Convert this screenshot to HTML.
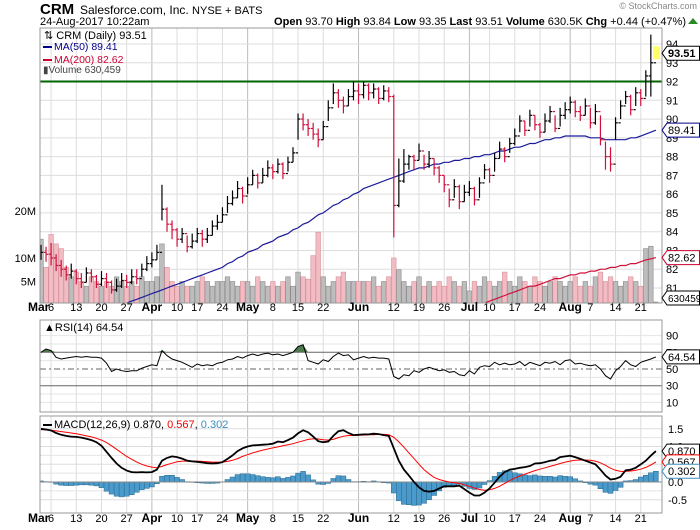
<!DOCTYPE html>
<html><head><meta charset="utf-8"><style>
body{margin:0;background:#fff;}
svg{display:block;font-family:"Liberation Sans",sans-serif;}
</style></head><body>
<svg id="chart" width="700" height="530" viewBox="0 0 700 530" xmlns="http://www.w3.org/2000/svg">
<defs>
<clipPath id="mainClip"><rect x="40" y="28" width="622" height="275"/></clipPath>
<clipPath id="rsiClip"><rect x="40" y="320" width="622" height="92"/></clipPath>
<clipPath id="macdClip"><rect x="40" y="416" width="622" height="97"/></clipPath>
</defs>
<text x="697" y="9" font-size="9" fill="#888" text-anchor="end">© StockCharts.com</text>
<text x="40" y="14" font-size="15" font-weight="bold">CRM</text>
<text x="80" y="14" font-size="12">Salesforce.com, Inc. <tspan font-size="11">NYSE + BATS</tspan></text>
<text x="40" y="25" font-size="11">24-Aug-2017 10:22am</text>
<text x="686" y="25" font-size="11" text-anchor="end"><tspan font-weight="bold">Open</tspan> 93.70 <tspan font-weight="bold">High</tspan> 93.84 <tspan font-weight="bold">Low</tspan> 93.35 <tspan font-weight="bold">Last</tspan> 93.51 <tspan font-weight="bold">Volume</tspan> 630.5K <tspan font-weight="bold">Chg</tspan> +0.44 (+0.47%)</text>
<path d="M688 24 L698 24 L693 18 Z" fill="#2a8a2a"/>
<g id="grid"></g>
<g id="vol" clip-path="url(#mainClip)"></g>
<g id="price" clip-path="url(#mainClip)"></g>
<g id="rsi" clip-path="url(#rsiClip)"></g>
<g id="macd" clip-path="url(#macdClip)"></g>
<g id="axes"></g>
<g id="legend">
<text x="44" y="39" font-size="11">⇅ CRM (Daily) 93.51</text>
<rect x="43" y="46" width="9" height="2" fill="#00008b"/>
<text x="54" y="50" font-size="10.5" fill="#00008b">MA(50) 89.41</text>
<rect x="43" y="59" width="9" height="2" fill="#cc0033"/>
<text x="54" y="63" font-size="10.5" fill="#cc0033">MA(200) 82.62</text>
<text x="43" y="73" font-size="10" fill="#444">▮Volume 630,459</text>
<text x="44" y="331" font-size="11">▲RSI(14) 64.54</text>
<rect x="43" y="424" width="9" height="2" fill="#000"/>
<text x="54" y="428" font-size="11">MACD(12,26,9) 0.870, <tspan fill="#e00">0.567</tspan>, <tspan fill="#3a8fc0">0.302</tspan></text>
</g>
</svg>
<script>
const close=[82.9,82.8,82.6,82.2,82.0,81.7,81.9,81.5,81.3,81.8,81.6,81.2,81.5,81.3,80.9,81.1,81.4,81.3,81.6,81.5,82.0,82.3,
82.5,82.9,85.2,84.4,84.1,83.6,83.9,83.2,83.5,83.9,83.6,83.8,84.3,84.5,84.9,85.5,85.8,86.3,85.9,
86.5,87.0,86.6,87.0,87.4,87.2,87.6,87.1,87.7,88.2,90.0,89.7,89.5,89.2,88.9,89.6,90.6,91.4,91.0,90.7,91.2,91.5,
91.3,91.8,91.4,91.6,91.1,91.5,91.2,85.4,86.7,87.6,88.0,87.8,88.3,87.6,87.9,87.4,87.0,86.5,85.7,86.4,85.6,86.1,
86.3,85.7,86.6,87.3,87.0,87.9,88.4,88.0,88.7,89.1,89.9,89.4,90.2,89.7,89.3,89.9,90.4,89.5,90.2,90.5,
90.9,90.4,90.2,90.7,89.8,90.4,88.9,88.0,87.6,89.8,90.7,91.2,90.5,91.4,91.1,92.3,93.0,93.51];
const high=[83.3,83.2,83.4,82.8,82.5,82.2,82.3,82.0,81.8,82.1,82.0,81.7,81.9,81.8,81.4,81.5,81.8,81.7,82.0,82.0,82.3,82.7,
82.9,83.3,86.5,85.3,84.6,84.2,84.2,83.8,83.9,84.2,84.1,84.2,84.6,84.9,85.3,85.9,86.2,86.7,86.4,
86.9,87.3,87.1,87.4,87.8,87.6,87.9,87.7,88.0,88.5,90.3,90.3,90.0,89.8,89.5,89.9,91.0,91.9,91.6,91.2,91.6,92.0,
91.9,92.0,91.9,91.9,91.7,91.8,91.7,91.3,87.9,88.4,88.1,88.1,88.7,88.1,88.3,87.9,87.5,87.0,86.3,86.8,86.5,86.5,
86.7,86.4,86.9,87.6,87.4,88.2,88.8,88.5,89.0,89.5,90.2,89.9,90.5,90.2,89.8,90.3,90.7,90.2,90.6,90.9,
91.2,91.0,90.7,91.1,90.6,90.8,90.2,88.8,88.5,90.1,91.0,91.5,91.3,91.7,91.6,92.6,94.5,93.84];
const low=[82.5,82.4,82.2,81.9,81.6,81.4,81.5,81.2,81.0,81.3,81.3,81.0,81.1,81.0,80.7,80.8,81.0,81.0,81.2,81.2,81.6,81.9,
82.1,82.5,84.6,84.0,83.6,83.2,83.4,82.9,83.1,83.4,83.2,83.4,83.8,84.1,84.5,85.0,85.4,85.8,85.5,
86.0,86.5,86.3,86.6,86.9,86.8,87.1,86.8,87.2,87.7,88.9,89.4,89.1,88.9,88.5,88.9,89.9,90.8,90.6,90.3,90.7,91.0,
90.8,91.1,91.0,91.1,90.8,91.0,90.9,83.7,85.3,86.6,87.3,87.3,87.8,87.3,87.4,87.0,86.6,86.1,85.3,85.8,85.2,85.6,
85.9,85.4,85.8,86.8,86.6,87.2,87.9,87.7,88.2,88.6,89.3,89.1,89.6,89.4,89.0,89.3,89.8,89.3,89.6,90.0,
90.3,90.1,89.9,90.2,89.5,89.7,88.6,87.3,87.2,88.9,90.0,90.8,90.2,90.7,90.7,91.2,91.2,93.35];
const ma50=[78.8,78.9,79.0,79.1,79.1,79.2,79.3,79.4,79.5,79.5,79.6,79.7,79.8,79.9,80.0,80.1,80.1,80.2,80.3,80.4,80.5,80.6,
80.7,80.8,80.9,81.0,81.1,81.2,81.3,81.4,81.5,81.6,81.7,81.8,81.9,82.0,82.1,82.3,82.4,82.6,82.7,
82.9,83.0,83.1,83.3,83.4,83.5,83.7,83.8,83.9,84.1,84.2,84.4,84.5,84.7,84.9,85.0,85.2,85.4,85.5,85.7,85.8,86.0,
86.1,86.3,86.4,86.5,86.6,86.7,86.8,86.9,87.0,87.1,87.2,87.3,87.4,87.4,87.5,87.6,87.6,87.7,87.7,87.8,87.8,87.9,
87.9,88.0,88.0,88.1,88.1,88.2,88.3,88.3,88.4,88.5,88.5,88.6,88.7,88.7,88.8,88.9,88.9,89.0,89.0,89.1,
89.1,89.1,89.1,89.1,89.0,89.0,89.0,88.9,88.9,88.9,88.9,88.9,89.0,89.0,89.1,89.2,89.3,89.41];
const ma200=[76.5,76.6,76.6,76.6,76.7,76.7,76.7,76.8,76.8,76.8,76.9,76.9,77.0,77.0,77.0,77.1,77.1,77.1,77.2,77.2,77.3,77.3,
77.3,77.4,77.4,77.5,77.5,77.6,77.6,77.7,77.7,77.7,77.8,77.8,77.9,77.9,78.0,78.0,78.1,78.1,78.2,
78.2,78.3,78.3,78.4,78.4,78.5,78.5,78.6,78.6,78.7,78.7,78.8,78.8,78.9,78.9,79.0,79.0,79.1,79.1,79.2,79.2,79.3,
79.3,79.4,79.4,79.5,79.5,79.5,79.6,79.6,79.6,79.7,79.7,79.7,79.8,79.8,79.8,79.9,79.9,79.9,80.0,80.0,80.0,80.0,
80.1,80.1,80.1,80.2,80.3,80.4,80.5,80.6,80.7,80.8,80.9,81.0,81.1,81.1,81.2,81.3,81.4,81.5,81.5,81.6,
81.7,81.7,81.8,81.8,81.9,81.9,82.0,82.0,82.1,82.1,82.2,82.2,82.3,82.3,82.4,82.5,82.55,82.62];
const volume=[14,8,15,13,12,8,6,7,5,4,6,5,4,5,4,6,5,4,5,4,6,5,
5,6,13,8,5,4,5,4,4,5,6,5,4,5,5,6,5,4,5,
5,4,6,5,4,5,4,5,6,4,7,6,5.5,10.5,15.5,6,4,5,6,7,5,5,
5,5,5,6,4,5,6,10,7.5,5,4,5,6,4,5,4,5,4,6,5,4,5,
3,5,4,6,5,4,5,7,5,4,6,5,4,6,5,4,5,6,5,4,
5,6,4,5,4,6,7,5,6,5,4,5,6,5,4,12,12.5,0.63];
const rsi=[70,74,72,64,62,63,64,65,64,65,64,64,63,57,47,50,48,47,48,48,51,53,
55,54,72,66,62,60,58,55,52,56,54,55,54,57,58,61,62,65,63,
66,68,66,68,69,67,68,66,68,70,77,79,60,58,56,61,59,65,69,66,67,61,
63,65,63,64,63,63,62,41,38,43,42,48,46,50,52,50,48,49,46,47,43,42,
48,44,52,54,53,58,55,57,55,56,59,54,58,56,54,58,57,59,55,60,
61,56,57,55,54,55,50,42,38,48,53,60,55,53,58,60,62,64.54];
const macd=[1.50,1.48,1.45,1.38,1.33,1.30,1.28,1.27,1.25,1.22,1.18,1.12,1.02,0.85,0.68,0.52,0.40,0.32,0.28,0.27,0.28,0.27,
0.28,0.35,0.60,0.68,0.72,0.70,0.66,0.60,0.58,0.57,0.55,0.53,0.52,0.53,0.56,0.65,0.75,0.87,0.95,
1.00,1.03,1.04,1.05,1.06,1.08,1.14,1.12,1.18,1.25,1.37,1.46,1.40,1.28,1.15,1.12,1.14,1.30,1.43,1.46,1.38,1.32,
1.33,1.34,1.34,1.36,1.35,1.32,1.30,0.95,0.60,0.35,0.18,0.00,-0.15,-0.25,-0.27,-0.25,-0.18,-0.12,-0.12,-0.12,-0.10,-0.20,
-0.30,-0.38,-0.38,-0.30,-0.18,-0.02,0.15,0.28,0.35,0.37,0.40,0.42,0.45,0.52,0.53,0.56,0.60,0.62,0.70,0.72,
0.74,0.70,0.65,0.60,0.55,0.50,0.35,0.18,0.07,0.09,0.15,0.33,0.35,0.40,0.50,0.60,0.74,0.870];
const signal=[1.47,1.47,1.46,1.44,1.42,1.40,1.38,1.36,1.33,1.30,1.27,1.23,1.18,1.11,1.02,0.92,0.82,0.72,0.64,0.56,0.50,0.45,
0.42,0.40,0.44,0.49,0.53,0.57,0.59,0.59,0.59,0.59,0.58,0.57,0.56,0.56,0.56,0.58,0.61,0.66,0.72,
0.77,0.82,0.86,0.90,0.93,0.96,0.99,1.02,1.05,1.08,1.12,1.16,1.20,1.22,1.21,1.19,1.18,1.20,1.25,1.29,1.31,1.31,
1.32,1.32,1.33,1.33,1.34,1.34,1.33,1.26,1.13,0.98,0.82,0.66,0.50,0.35,0.23,0.13,0.07,0.03,0.00,-0.02,-0.04,-0.08,
-0.12,-0.17,-0.21,-0.23,-0.22,-0.18,-0.12,-0.04,0.04,0.11,0.17,0.22,0.27,0.32,0.36,0.40,0.44,0.48,0.52,0.56,
0.59,0.61,0.62,0.62,0.61,0.59,0.54,0.47,0.39,0.33,0.30,0.30,0.31,0.33,0.36,0.41,0.48,0.567];
const tickLabels=["6","13","20","27","Apr","10","17","24","May","8","15","22","Jun","12","19","26","Jul","10","17","24","Aug","7","14","21"];
const tickIdx=[2,7,12,17,22,27,31,36,41,46,51,56,63,70,75,80,85,89,94,99,105,109,114,119];
const priceTicks=[81,82,83,84,85,86,87,88,89,90,91,92,93,94];
const volTicks=[5,10,20];
const rsiTicks=[10,30,50,70,90];
const macdTicks=[-0.5,0,0.5,1,1.5];

const NS="http://www.w3.org/2000/svg";
const L=40,R=662;
const X=i=>41+i*5.04;
const PY=p=>44+(94-p)*18.77;
const VY=v=>305-v*4.7;
const RY=v=>369-(v-50)*0.835;
const MY=v=>482-v*35.5;
function mk(tag,attrs,parent){const e=document.createElementNS(NS,tag);for(const k in attrs)e.setAttribute(k,attrs[k]);parent.appendChild(e);return e;}
const G=id=>document.getElementById(id);
const grid=G('grid'),axes=G('axes');

[[28,303],[320,412],[416,513]].forEach(([t,b],k)=>{
  const r=mk('rect',{x:L,y:t,width:R-L,height:b-t,fill:'none',stroke:'#999','stroke-width':1},axes);
  
  
});
tickIdx.forEach((ti,k)=>{
  const x=X(ti);
  const isMonth=isNaN(+tickLabels[k]);
  [[28,303],[320,412],[416,513]].forEach(([t,b])=>{
    const l=mk('line',{x1:x,x2:x,y1:t,y2:b,stroke:isMonth?'#bbb':'#ddd','stroke-width':1},grid);
    
    
  });
  [311,522].forEach(y=>{
    const t=mk('text',{x:x,y:y,'font-size':isMonth?12:11,'font-weight':isMonth?'bold':'normal','text-anchor':'middle'},axes);
    t.textContent=tickLabels[k];
    
    
  });
});
[311,522].forEach(y=>{
  const t=mk('text',{x:28,y:y,'font-size':12,'font-weight':'bold'},axes);t.textContent='Mar';
  
  
});
priceTicks.forEach(p=>{
  const y=PY(p);
  const l=mk('line',{x1:L,x2:R,y1:y,y2:y,stroke:'#ddd'},grid);
  
  
  const t=mk('text',{x:666,y:y+4,'font-size':11},axes);t.textContent=p;
  
  
});
volTicks.forEach(v=>{
  const t=mk('text',{x:36,y:VY(v)+4,'font-size':11,'text-anchor':'end'},axes);t.textContent=v+'M';
  
  
});
const vol=G('vol');
volume.forEach((v,i)=>{
  const down=i>0&&close[i]<close[i-1];
  const r=mk('rect',{x:X(i)-2.3,y:VY(v),width:4.6,height:305-VY(v),fill:down?'#f2bcc4':'#bdbdbd',stroke:down?'#d6909a':'#8c8c8c','stroke-width':0.6},vol);
  
  
});
const sl=mk('line',{x1:L,x2:R,y1:PY(92),y2:PY(92),stroke:'#006400','stroke-width':2},G('price'));


function poly(arr,f,color,w,parent,name){
  const pts=arr.map((v,i)=>X(i).toFixed(1)+','+f(v).toFixed(1)).join(' ');
  const p=mk('polyline',{points:pts,fill:'none',stroke:color,'stroke-width':w},parent);
  
  
  return p;
}
poly(ma50,PY,'#1a1a9a',1.2,G('price'),'ma50-line');
poly(ma200,PY,'#d0103a',1.2,G('price'),'ma200-line');
const price=G('price');
close.forEach((c,i)=>{
  const o=i>0?close[i-1]:c;
  const down=i>0&&c<close[i-1];
  const col=down?'#d0103a':'#000';
  const g=mk('g',{stroke:col,'stroke-width':1.2},price);
  
  
  const x=X(i);
  mk('line',{x1:x,x2:x,y1:PY(high[i]),y2:PY(low[i])},g);
  mk('line',{x1:x-2.2,x2:x,y1:PY(o),y2:PY(o)},g);
  mk('line',{x1:x,x2:x+2.2,y1:PY(c),y2:PY(c)},g);
});
const rg=G('rsi');
[10,20,40,60,80,90].forEach(v=>{const l=mk('line',{x1:L,x2:R,y1:RY(v),y2:RY(v),stroke:'#e4e4e4'},grid);
  
  });
[[70,'none'],[30,'none'],[50,'6,3,2,3']].forEach(([v,d])=>{
  const l=mk('line',{x1:L,x2:R,y1:RY(v),y2:RY(v),stroke:'#666','stroke-width':1,'stroke-dasharray':d},rg);
  
  
});
let fillPts=[];
rsi.forEach((v,i)=>{fillPts.push(X(i).toFixed(1)+','+Math.min(RY(v),RY(70)).toFixed(1));});
const of=mk('polygon',{points:X(0)+','+RY(70)+' '+fillPts.join(' ')+' '+X(rsi.length-1)+','+RY(70),fill:'#4f7a4f',stroke:'none'},rg);


poly(rsi,RY,'#000',1,rg,'rsi-line');
rsiTicks.forEach(v=>{const t=mk('text',{x:666,y:RY(v)+4,'font-size':11},axes);t.textContent=v;
  
  });
const mg=G('macd');
[-0.25,0.25,0.75,1.25].forEach(v=>{const l=mk('line',{x1:L,x2:R,y1:MY(v),y2:MY(v),stroke:'#e4e4e4'},grid);
  
  });
macdTicks.forEach(v=>{
  const l=mk('line',{x1:L,x2:R,y1:MY(v),y2:MY(v),stroke:'#ddd'},grid);
  
  
  const t=mk('text',{x:668,y:MY(v)+4,'font-size':11},axes);t.textContent=v.toFixed(1);
  
  
});
macd.forEach((m,i)=>{
  const h=m-signal[i];
  const y0=MY(0),y1=MY(h);
  const r=mk('rect',{x:X(i)-2.5,y:Math.min(y0,y1),width:5,height:Math.abs(y1-y0),fill:'#4a9acb',stroke:'#2a6a90','stroke-width':0.5},mg);
  
  
});
const zl=mk('line',{x1:L,x2:R,y1:MY(0),y2:MY(0),stroke:'#888'},mg);


poly(signal,MY,'#f00',1,mg,'macd-signal-line');
poly(macd,MY,'#000',1.8,mg,'macd-line');
function tag(y,txt,stroke,fill,name,bold){
  const g=mk('g',{},axes);
  
  
  mk('path',{d:`M662 ${y} L667 ${y-7} L699.5 ${y-7} L699.5 ${y+7} L667 ${y+7} Z`,fill:fill,stroke:stroke,'stroke-width':1},g);
  const t=mk('text',{x:668,y:y+4,'font-size':txt.length>5?10:11,fill:'#000','font-weight':bold?'bold':'normal'},g);t.textContent=txt;
}
tag(PY(close[close.length-1]),'93.51','#000','#fff','last-price-tag',true);
tag(PY(ma50[ma50.length-1]),'89.41','#00008b','#fff','ma50-tag');
tag(PY(ma200[ma200.length-1]),'82.62','#cc0033','#fff','ma200-tag');
tag(298,'630459','#000','#fff','volume-tag');
tag(RY(rsi[rsi.length-1]),'64.54','#000','#fff','rsi-tag');
tag(MY(macd[macd.length-1]),'0.870','#000','#fff','macd-tag');
tag(MY(signal[signal.length-1]),'0.567','#f00','#fff','signal-tag');
tag(MY(macd[macd.length-1]-signal[signal.length-1]),'0.302','#3a8fc0','#fff','histogram-tag');
const hl=mk('rect',{x:653,y:PY(93.51)-7,width:7,height:13,fill:'#ffff66'},axes);


</script>
</body></html>
